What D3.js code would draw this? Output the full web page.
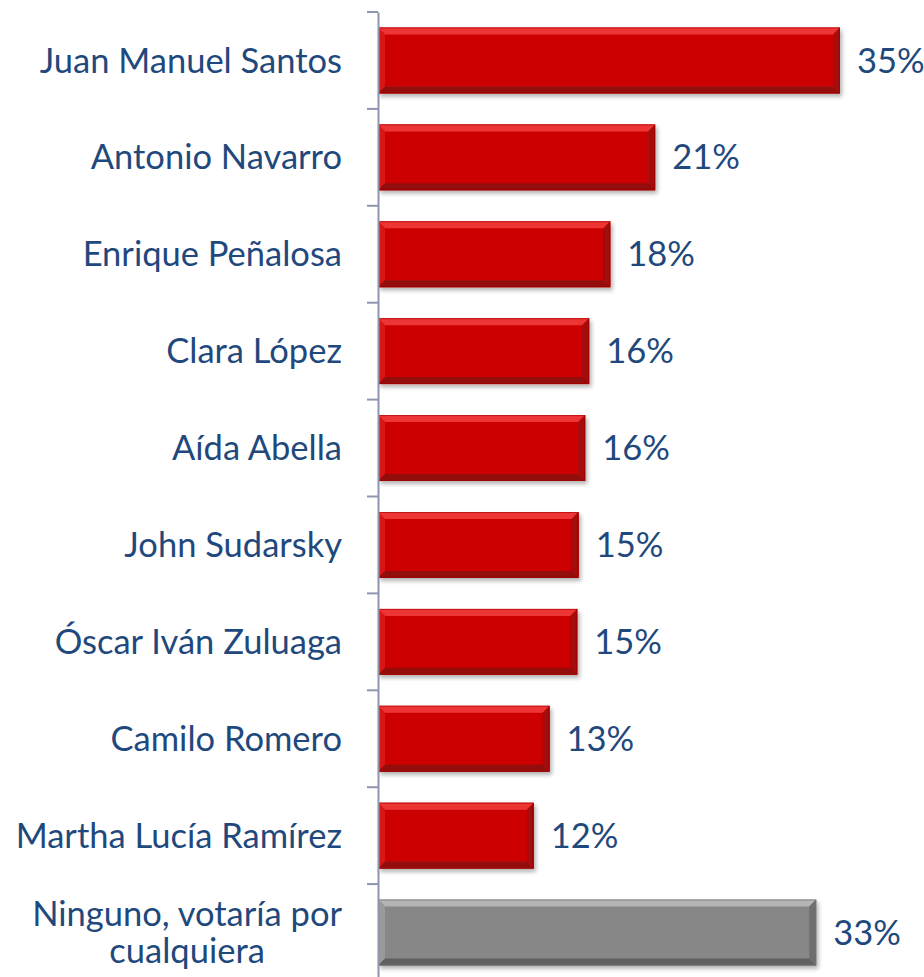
<!DOCTYPE html>
<html><head><meta charset="utf-8">
<script src="https://cdn.jsdelivr.net/npm/d3@7"></script>
<style>html,body{margin:0;padding:0;background:#fff;}svg{display:block;}</style>
</head><body>
<svg id="c" width="924" height="977"></svg>
<script>
const categories = ["Juan Manuel Santos","Antonio Navarro","Enrique Peñalosa","Clara López","Aída Abella","John Sudarsky","Óscar Iván Zuluaga","Camilo Romero","Martha Lucía Ramírez","Ninguno, votaría por\ncualquiera"];
const values = [35.0, 21.0, 17.6, 16.0, 15.7, 15.2, 15.1, 13.0, 11.8, 33.2];
const valueLabels = ["35%","21%","18%","16%","16%","15%","15%","13%","12%","33%"];
const barColors = ["red","red","red","red","red","red","red","red","red","gray"];

const svg = d3.select("#c");
const x0 = 378;
const x = d3.scaleLinear().domain([0, 35]).range([x0, 840]);
const y = d3.scaleBand().domain(categories).range([12, 981]).paddingInner(0.32).paddingOuter(0.16);

const pal = {
  red: {main:"#CC0606", top:"#EE3636", left:"#D81818", bottom:"#930A0A", right:"#A40808", edge:"#A80000"},
  gray:{main:"#878787", top:"#B4B4B4", left:"#999999", bottom:"#606060", right:"#6E6E6E", edge:"#707070"}
};

const defs = svg.append("defs");
const f = defs.append("filter").attr("id","sh").attr("x","-5%").attr("y","-20%").attr("width","115%").attr("height","150%");
f.append("feGaussianBlur").attr("in","SourceAlpha").attr("stdDeviation",2);
f.append("feOffset").attr("dx",2).attr("dy",3).attr("result","b");
f.append("feComponentTransfer").append("feFuncA").attr("type","linear").attr("slope",0.3);
const m = f.append("feMerge"); m.append("feMergeNode"); m.append("feMergeNode").attr("in","SourceGraphic");

const bevel = 7;
const g = svg.append("g");
categories.forEach((c,i)=>{
  const c0 = pal[barColors[i]];
  const bx = x(0), bw = x(values[i]) - x(0), by = y(c), bh = y.bandwidth();
  const gg = g.append("g").attr("filter","url(#sh)");
  gg.append("rect").attr("x",bx).attr("y",by).attr("width",bw).attr("height",bh).attr("fill",c0.main);
  const X1 = bx, X2 = bx+bw, Y1 = by, Y2 = by+bh, b = bevel;
  const poly = (pts, col) => gg.append("polygon").attr("points", pts.map(p=>p.join(",")).join(" ")).attr("fill", col);
  poly([[X1,Y1],[X2,Y1],[X2-b,Y1+b],[X1+b,Y1+b]], c0.top);
  poly([[X1,Y1],[X1+b,Y1+b],[X1+b,Y2-b],[X1,Y2]], c0.left);
  poly([[X1,Y2],[X1+b,Y2-b],[X2-b,Y2-b],[X2,Y2]], c0.bottom);
  poly([[X2,Y1],[X2,Y2],[X2-b,Y2-b],[X2-b,Y1+b]], c0.right);
  gg.append("rect").attr("x",bx+0.5).attr("y",by+0.5).attr("width",bw-1).attr("height",bh-1).attr("fill","none").attr("stroke",c0.edge).attr("stroke-width",1).attr("opacity",0.6);
});

// axis
const axisG = svg.append("g").attr("transform",`translate(${x0},0)`);
const ax = d3.axisLeft(y).tickSizeInner(11).tickSizeOuter(0).tickFormat("");
axisG.call(ax);
axisG.selectAll(".tick line").remove();
axisG.select(".domain").attr("stroke","#8E96AE").attr("stroke-width",2);
const step = y.step();
const bounds = d3.range(categories.length + 1).map(i => 12 + i*step);
axisG.selectAll("line.b").data(bounds).join("line").attr("class","b")
  .attr("x1",-11).attr("x2",0).attr("y1",d=>d).attr("y2",d=>d)
  .attr("stroke","#8E96AE").attr("stroke-width",2);

const font = "Lato, 'Open Sans', sans-serif";
const fs = 34.5;
const txtCol = "#1F497D";
categories.forEach((c,i)=>{
  const lines = c.split("\n");
  const cy = y(c) + y.bandwidth()/2;
  if (lines.length === 1) {
    svg.append("text").attr("x",342).attr("y",cy).attr("dy","0.35em").attr("text-anchor","end")
      .attr("font-family",font).attr("font-size",fs).attr("fill",txtCol).text(c);
  } else {
    const t = svg.append("text").attr("font-family",font).attr("font-size",fs).attr("fill",txtCol).attr("text-anchor","middle");
    const lh = 37;
    const ts = lines.map((l,j)=> t.append("tspan").attr("y", cy + (j-(lines.length-1)/2)*lh).attr("dy","0.35em").text(l));
    const maxW = d3.max(ts, s=>s.node().getComputedTextLength());
    ts.forEach(s=>s.attr("x", 342 - maxW/2));
  }
});
categories.forEach((c,i)=>{
  svg.append("text").attr("x", x(values[i]) + 17).attr("y", y(c)+y.bandwidth()/2).attr("dy","0.35em")
    .attr("font-family",font).attr("font-size",fs).attr("fill",txtCol).text(valueLabels[i]);
});
</script>
</body></html>
